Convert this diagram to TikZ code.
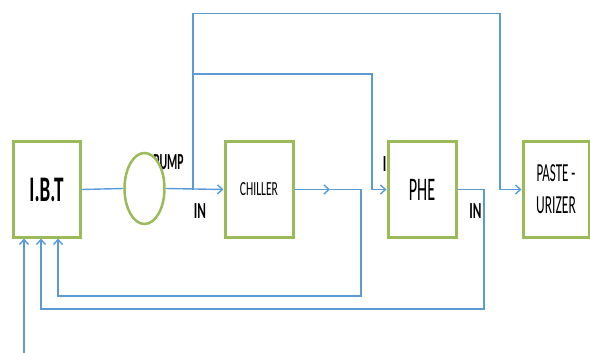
\documentclass[tikz,border=0pt]{standalone}
\usepackage{fontspec}
\setmainfont{Carlito}
\usetikzlibrary{arrows.meta,positioning,shapes.geometric}
\definecolor{OliveBox}{RGB}{155,187,89}
\definecolor{PipeBlue}{RGB}{91,155,213}
\newcommand{\slim}[2]{\scalebox{#1}[1]{#2}}
\tikzset{
  unit/.style={draw=OliveBox,line width=3pt,fill=white,minimum width=67pt,
    minimum height=95pt,inner sep=0pt},
  pipe/.style={draw=PipeBlue,line width=1.4pt},
  flow/.style={pipe,->},
  tag/.style={font=\fontsize{23}{23}\selectfont\bfseries,inner sep=0pt}
}

\begin{document}
\begin{tikzpicture}[x=1pt,y=-1pt,>={Straight Barb[length=5pt,width=9pt]}]
  \useasboundingbox (0,0) rectangle (590,353);
  % labels partly hidden by the units
  \node[tag] (pumptag) at (168.5,162.5) {\slim{0.51}{PUMP}};
  \node[tag] (phetag) at (389,164) {\slim{0.57}{IN}};
  \node[tag] (chtag) at (200,211.5) {\slim{0.57}{IN}};
  \node[tag] (pastag) at (475.5,211.5) {\slim{0.57}{IN}};

  \node[unit] (ibt) at (46.5,189.5)
    {\fontsize{36}{36}\selectfont\bfseries\slim{0.53}{I.B.T}};
  \node[ellipse,draw=OliveBox,line width=2.5pt,fill=white,minimum width=40pt,
    minimum height=71pt,inner sep=0pt] (pump) at (144.5,188.5) {};
  \node[unit,minimum width=68pt] (chiller) at (259,189.5)
    {\fontsize{20}{20}\selectfont\slim{0.58}{CHILLER}};
  \node[unit,minimum width=68pt] (phe) at (422,189.5)
    {\fontsize{33}{33}\selectfont\slim{0.49}{PHE}};
  \node[unit,minimum width=66pt,align=center,font=\fontsize{26}{32}\selectfont]
    (past) at (556,189.5) {\slim{0.5}{PASTE -}\\\slim{0.52}{URIZER}};

  \coordinate (split) at (193,189.5);
  \coordinate (topline) at (193,13.5);
  \coordinate (midline) at (193,74);
  \coordinate (phein) at (372,189.5);
  \coordinate (pastin) at (500,189.5);
  \coordinate (chout) at (330,189.5);
  \coordinate (chturn) at (361,189.5);
  \coordinate (ret1) at (58,296);
  \coordinate (pheturn) at (484,189.5);
  \coordinate (ret2) at (41,309);
  \coordinate (feed) at (24,353);

  \draw[pipe] (ibt.east) -- (pump.west);
  \draw[flow] (pump.east) -- (chiller.west);
  \draw[flow] (split) -- (topline) -| (pastin) -- (past.west);
  \draw[flow] (split) -- (midline) -| (phein) -- (phe.west);
  \draw[flow] (chiller.east) -- (chout);
  \draw[flow] (chout) -- (chturn) |- (ret1) -- (ret1 |- ibt.south);
  \draw[flow] (phe.east) -- (pheturn) |- (ret2) -- (ret2 |- ibt.south);
  \draw[flow] (feed) -- (feed |- ibt.south);
\end{tikzpicture}
\end{document}
